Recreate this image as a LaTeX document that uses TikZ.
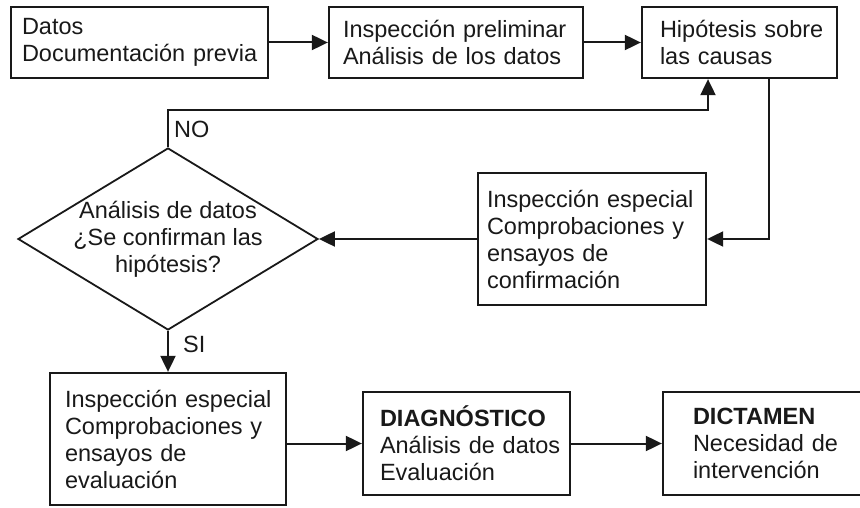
\documentclass[tikz,border=0pt]{standalone}
\usepackage{fontspec}
\setmainfont{Liberation Sans}
\usetikzlibrary{shapes.geometric,arrows.meta}
\begin{document}
\begin{tikzpicture}[x=1pt,y=-1pt,
  box/.style={draw=black!90, line width=2.3pt, rectangle, inner ysep=0pt, align=left,
    font=\fontsize{23.5}{27}\selectfont, text=black!90},
  conn/.style={draw=black!90, line width=2pt, -{Triangle[length=16pt,width=15pt]}},
  lbl/.style={font=\fontsize{23.5}{27}\selectfont, text=black!90, inner sep=0pt}
]
\clip (0,0) rectangle (860,508);
\useasboundingbox (0,0) rectangle (860,508);

\node[box, minimum height=71pt, text width=235pt, inner xsep=11pt] (b1) at (139.5,42.5)
  {\mbox{Datos}\\\mbox{Documentación previa}};
\node[box, minimum height=71pt, text width=226pt, inner xsep=14pt] (b2) at (456,42.5)
  {\mbox{Inspección preliminar}\\\mbox{Análisis de los datos}};
\node[box, minimum height=71pt, text width=159pt, inner xsep=18pt] (b3) at (739.5,42.5)
  {\mbox{Hipótesis sobre}\\\mbox{las causas}};
\node[box, minimum height=132pt, text width=210pt, inner xsep=9pt] (b4) at (592,239)
  {\mbox{Inspección especial}\\\mbox{Comprobaciones y}\\\mbox{ensayos de}\\\mbox{confirmación}};
\node[draw=black!90, line width=1.8pt, diamond, minimum width=300pt, minimum height=182pt,
  inner sep=0pt] (dia) at (168,239) {};
\node[lbl, align=center] (diatext) at (dia.center)
  {Análisis de datos\\¿Se confirman las\\hipótesis?};
\node[box, minimum height=132pt, text width=206pt, inner xsep=15pt] (b6) at (168,439)
  {\mbox{Inspección especial}\\\mbox{Comprobaciones y}\\\mbox{ensayos de}\\\mbox{evaluación}};
\node[box, minimum height=103pt, text width=173pt, inner xsep=17pt] (b7) at (466.5,443.5)
  {\mbox{\textbf{DIAGNÓSTICO}}\\\mbox{Análisis de datos}\\\mbox{Evaluación}};
\node[box, minimum height=103pt, text width=177pt, inner xsep=30pt] (b8) at (781.5,443.5)
  {\mbox{\textbf{DICTAMEN}}\\\mbox{Necesidad de}\\\mbox{intervención}};

\draw[conn] (b1.east) -- (b2.west);
\draw[conn] (b2.east) -- (b3.west);
\coordinate (noc) at (708,110);
\draw[conn] (dia.north) |- (noc) -- (noc |- b3.south);
\draw[conn] ([xshift=29.5pt]b3.south) |- (b4.east);
\draw[conn] (b4.west) -- (dia.east);
\draw[conn] (dia.south) -- (b6.north);
\draw[conn] (b6.east |- b7.west) -- (b7.west);
\draw[conn] (b7.east) -- (b8.west);

\node[lbl, anchor=base west] (no) at (174,138) {NO};
\node[lbl, anchor=base west] (si) at (183,352) {SI};
\end{tikzpicture}
\end{document}
